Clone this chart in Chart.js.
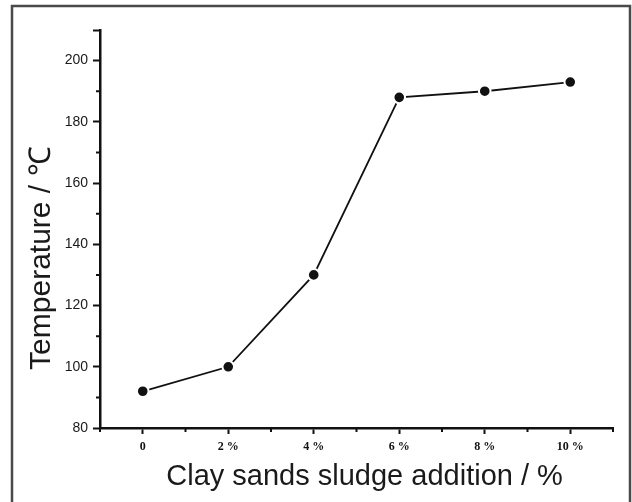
<!DOCTYPE html>
<html>
<head>
<meta charset="utf-8">
<script src="https://cdn.jsdelivr.net/npm/chart.js@4"></script>
<style>
html,body{margin:0;padding:0;background:#fff;}
canvas{display:block;}
</style>
</head>
<body>
<canvas id="c" width="632" height="502"></canvas>
<script>
const categories = ['0', '2 %', '4 %', '6 %', '8 %', '10 %'];
const temperatures = [92, 100, 130, 188, 190, 193];
const yMin = 80, yMax = 210, yStep = 10, yLabelStep = 20, yLabelMax = 200;
const xTitle = 'Clay sands sludge addition / %';
const yTitle = 'Temperature / ℃';

const frameAndMinorTicks = {
  id: 'frameAndMinorTicks',
  beforeDraw(chart) {
    const ctx = chart.ctx;
    ctx.save();
    ctx.fillStyle = '#fff';
    ctx.fillRect(0, 0, chart.width, chart.height);
    ctx.strokeStyle = '#4a4a4a';
    ctx.lineWidth = 2.5;
    ctx.strokeRect(12, 6, 618, chart.height + 10);
    ctx.restore();
  },
  afterDraw(chart) {
    const ctx = chart.ctx;
    const xs = chart.scales.x, ys = chart.scales.y;
    ctx.save();
    ctx.strokeStyle = '#111';
    ctx.lineWidth = 2;
    ctx.beginPath();
    const n = categories.length;
    for (let i = 0; i <= n; i++) {
      const px = i === 0 ? xs.left : (i === n ? xs.right : (xs.getPixelForValue(i - 1) + xs.getPixelForValue(i)) / 2);
      ctx.moveTo(px, xs.top);
      ctx.lineTo(px, xs.top + 4);
    }
    ys.ticks.forEach(t => {
      if (t.value % yLabelStep !== 0 && t.value < yMax) {
        const py = ys.getPixelForValue(t.value);
        ctx.moveTo(ys.right, py);
        ctx.lineTo(ys.right - 4, py);
      }
    });
    ctx.stroke();
    ctx.restore();
  }
};

new Chart(document.getElementById('c'), {
  type: 'line',
  data: {
    labels: categories,
    datasets: [{
      data: temperatures,
      borderColor: '#111',
      borderWidth: 1.8,
      backgroundColor: '#111',
      pointRadius: 5.8,
      pointBorderWidth: 2,
      pointBorderColor: '#fff',
      pointBackgroundColor: '#111',
      tension: 0,
      fill: false
    }]
  },
  options: {
    responsive: false,
    animation: false,
    devicePixelRatio: 1,
    layout: { padding: { top: 30, right: 19, left: 0, bottom: 0 } },
    plugins: { legend: { display: false }, tooltip: { enabled: false } },
    scales: {
      x: {
        type: 'category',
        offset: true,
        afterFit: s => { s.height = 74; },
        border: { display: true, color: '#111', width: 2.5 },
        grid: { display: true, drawOnChartArea: false, drawTicks: true, tickLength: 6, tickColor: '#111', tickWidth: 2, offset: false },
        ticks: { color: '#111', padding: 6, maxRotation: 0, font: { family: 'Liberation Serif', size: 12, weight: 'bold' } },
        title: { display: true, text: '  ' + xTitle, color: '#1a1a1a', padding: { top: 0, bottom: 8 }, font: { family: 'Liberation Sans', size: 29 } }
      },
      y: {
        type: 'linear',
        min: yMin,
        max: yMax,
        afterFit: s => { s.width = 100; },
        border: { display: true, color: '#111', width: 2.5 },
        grid: {
          display: true, drawOnChartArea: false, drawTicks: true, tickLength: 7, tickWidth: 2,
          tickColor: c => (c.tick && (c.tick.value % yLabelStep === 0 || c.tick.value === yMax)) ? '#111' : 'rgba(0,0,0,0)'
        },
        ticks: {
          stepSize: yStep,
          color: '#1a1a1a',
          padding: 5,
          font: { family: 'Liberation Sans', size: 14 },
          callback: v => (v % yLabelStep === 0 && v <= yLabelMax) ? String(v) : ''
        },
        title: { display: true, text: yTitle + '       ', color: '#1a1a1a', padding: { top: 24, bottom: 0 }, font: { family: 'Liberation Sans', size: 30 } }
      }
    }
  },
  plugins: [frameAndMinorTicks]
});
</script>
</body>
</html>
